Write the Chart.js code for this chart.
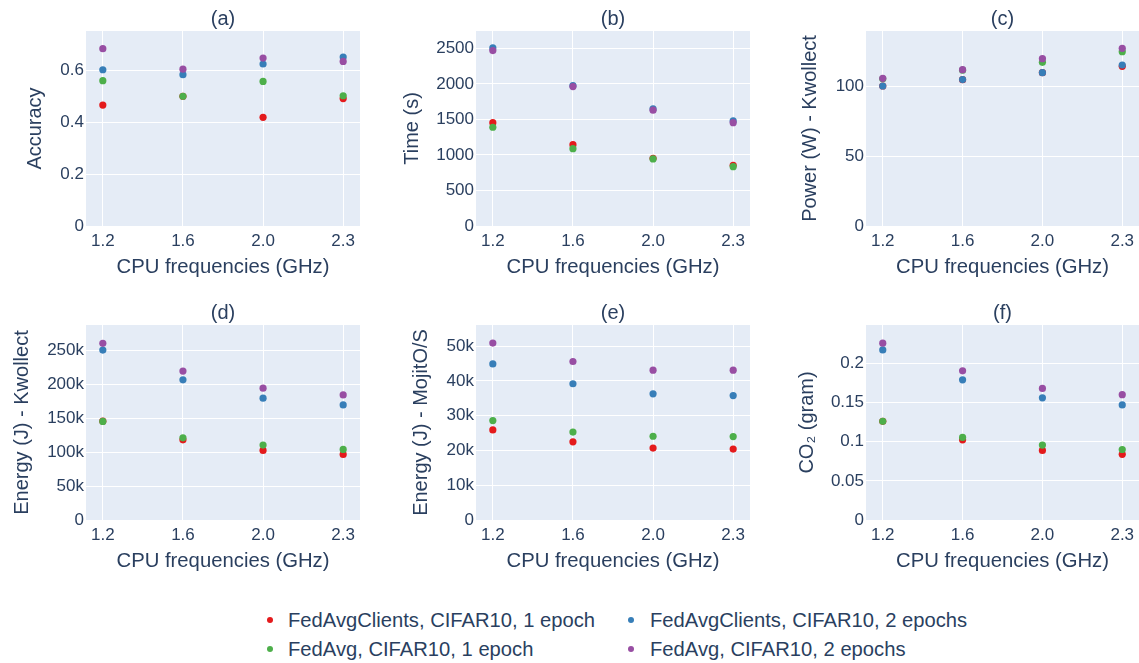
<!DOCTYPE html>
<html>
<head>
<meta charset="utf-8">
<script src="https://cdn.jsdelivr.net/npm/chart.js@4"></script>
<style>
  html, body { margin: 0; padding: 0; background: #ffffff; }
  body { width: 1139px; height: 663px; position: relative; overflow: hidden; font-family: "Liberation Sans", Arial, sans-serif; }
  .panel { position: absolute; }
  .legend-item { position: absolute; height: 26px; line-height: 26px; color: #2a3f5f; font-size: 20.2px; white-space: nowrap; }
  .legend-dot { position: absolute; width: 6px; height: 6px; border-radius: 50%; top: 10px; left: 0; }
  .legend-text { position: absolute; top: 0; }
</style>
</head>
<body>
<script>
// ---------- data ----------
const freqLabels = ['1.2', '1.6', '2.0', '2.3'];
const seriesNames = [
  'FedAvgClients, CIFAR10, 1 epoch',
  'FedAvgClients, CIFAR10, 2 epochs',
  'FedAvg, CIFAR10, 1 epoch',
  'FedAvg, CIFAR10, 2 epochs'
];
const seriesColors = ['#e41a1c', '#377eb8', '#4daf4a', '#984ea3'];

// (a) Accuracy
const accuracyClients1 = [0.465, 0.499, 0.418, 0.490];
const accuracyClients2 = [0.601, 0.582, 0.623, 0.650];
const accuracyFedAvg1  = [0.559, 0.499, 0.556, 0.501];
const accuracyFedAvg2  = [0.682, 0.603, 0.646, 0.633];
const accuracyTicks = [0, 0.2, 0.4, 0.6];

// (b) Time (s)
const timeClients1 = [1455, 1145, 952, 855];
const timeClients2 = [2507, 1975, 1648, 1479];
const timeFedAvg1  = [1390, 1089, 944, 835];
const timeFedAvg2  = [2469, 1962, 1630, 1455];
const timeTicks = [0, 500, 1000, 1500, 2000, 2500];

// (c) Power (W) - Kwollect
const powerClients1 = [100.0, 104.5, 109.5, 114.1];
const powerClients2 = [100.0, 104.6, 109.5, 115.0];
const powerFedAvg1  = [105.2, 111.3, 116.9, 124.5];
const powerFedAvg2  = [105.5, 111.7, 119.5, 126.9];
const powerTicks = [0, 50, 100];

// (d) Energy (J) - Kwollect
const energyKwClients1 = [146000, 118400, 102800, 96900];
const energyKwClients2 = [251000, 207000, 180000, 170000];
const energyKwFedAvg1  = [145600, 121400, 110600, 104200];
const energyKwFedAvg2  = [261000, 220000, 194700, 184800];
const energyKwTicks = [0, 50000, 100000, 150000, 200000, 250000];

// (e) Energy (J) - MojitO/S
const energyMjClients1 = [25900, 22500, 20700, 20400];
const energyMjClients2 = [44900, 39200, 36300, 35800];
const energyMjFedAvg1  = [28600, 25300, 24100, 24000];
const energyMjFedAvg2  = [50900, 45600, 43100, 43100];
const energyMjTicks = [0, 10000, 20000, 30000, 40000, 50000];

// (f) CO2 (gram)
const co2Clients1 = [0.1260, 0.1024, 0.0889, 0.0838];
const co2Clients2 = [0.2172, 0.1790, 0.1560, 0.1470];
const co2FedAvg1  = [0.1260, 0.1055, 0.0957, 0.0900];
const co2FedAvg2  = [0.2258, 0.1905, 0.1680, 0.1600];
const co2Ticks = [0, 0.05, 0.1, 0.15, 0.2];

// ---------- layout / style ----------
const TEXT = '#2a3f5f';
const FONT = '"Liberation Sans", Arial, sans-serif';
const kFormat = v => v === 0 ? '0' : (v / 1000) + 'k';
const plainFormat = v => String(+v.toFixed(4));

const panels = [
  { title: '(a)', yTitle: 'Accuracy', series: [accuracyClients1, accuracyClients2, accuracyFedAvg1, accuracyFedAvg2], ticks: accuracyTicks, yMax: 0.75, fmt: plainFormat, titlePad: 23 },
  { title: '(b)', yTitle: 'Time (s)', series: [timeClients1, timeClients2, timeFedAvg1, timeFedAvg2], ticks: timeTicks, yMax: 2745, fmt: plainFormat, titlePad: 10 },
  { title: '(c)', yTitle: 'Power (W) - Kwollect', series: [powerClients1, powerClients2, powerFedAvg1, powerFedAvg2], ticks: powerTicks, yMax: 139.3, fmt: plainFormat, titlePad: 18 },
  { title: '(d)', yTitle: 'Energy (J) - Kwollect', series: [energyKwClients1, energyKwClients2, energyKwFedAvg1, energyKwFedAvg2], ticks: energyKwTicks, yMax: 288000, fmt: kFormat, titlePad: 10 },
  { title: '(e)', yTitle: 'Energy (J) - MojitO/S', series: [energyMjClients1, energyMjClients2, energyMjFedAvg1, energyMjFedAvg2], ticks: energyMjTicks, yMax: 56100, fmt: kFormat, titlePad: 19 },
  { title: '(f)', yTitle: 'CO\u2082 (gram)', series: [co2Clients1, co2Clients2, co2FedAvg1, co2FedAvg2], ticks: co2Ticks, yMax: 0.249, fmt: plainFormat, titlePad: 15 }
];

const plotBg = {
  id: 'plotBg',
  beforeDraw(chart) {
    const a = chart.chartArea, ctx = chart.ctx;
    ctx.save();
    ctx.fillStyle = '#E5ECF6';
    ctx.fillRect(a.left, a.top, a.right - a.left, a.bottom - a.top);
    ctx.restore();
  }
};

panels.forEach((p, idx) => {
  const col = idx % 3, row = Math.floor(idx / 3);
  const left = col * 390, top = row * 294;
  const width = col === 2 ? 363 : 390;
  const div = document.createElement('div');
  div.className = 'panel';
  div.style.left = left + 'px';
  div.style.top = top + 'px';
  div.style.width = width + 'px';
  div.style.height = '294px';
  const canvas = document.createElement('canvas');
  div.appendChild(canvas);
  document.body.appendChild(div);

  const datasets = p.series.map((vals, s) => ({
    label: seriesNames[s],
    data: vals.map((v, i) => ({ x: i, y: v })),
    backgroundColor: seriesColors[s],
    borderWidth: 0,
    pointRadius: 3.6,
    showLine: false,
    order: 4 - s
  }));

  new Chart(canvas, {
    type: 'scatter',
    data: { datasets },
    plugins: [plotBg],
    options: {
      responsive: true,
      maintainAspectRatio: false,
      devicePixelRatio: 1,
      animation: false,
      events: [],
      layout: { padding: { left: 0, top: 0, right: col === 2 ? 0 : 30, bottom: 0 } },
      plugins: {
        legend: { display: false },
        tooltip: { enabled: false },
        title: {
          display: true, text: p.title, color: TEXT, fullSize: false,
          font: { family: FONT, size: 20, weight: 'normal' },
          padding: { top: 7, bottom: 0 }
        }
      },
      scales: {
        x: {
          type: 'linear', min: -0.21, max: 3.21,
          afterBuildTicks: s => { s.ticks = freqLabels.map((_, i) => ({ value: i })); },
          afterFit: s => { s.height = 68; },
          ticks: { color: TEXT, font: { family: FONT, size: 17 }, padding: 5, callback: v => freqLabels[v] },
          grid: { color: '#ffffff', lineWidth: 1, drawTicks: false },
          border: { display: false },
          title: { display: true, text: 'CPU frequencies (GHz)', color: TEXT, font: { family: FONT, size: 20.3 }, padding: { top: 0, bottom: 14 } }
        },
        y: {
          type: 'linear', min: 0, max: p.yMax,
          afterBuildTicks: s => { s.ticks = p.ticks.map(v => ({ value: v })); },
          afterFit: s => { s.width = 86; },
          ticks: { color: TEXT, font: { family: FONT, size: 17 }, padding: 2, callback: v => p.fmt(v) },
          grid: { color: '#ffffff', lineWidth: 1, drawTicks: false },
          border: { display: false },
          title: { display: true, text: p.yTitle, color: TEXT, font: { family: FONT, size: 20 }, padding: { top: p.titlePad, bottom: 0 } }
        }
      }
    }
  });
});

// ---------- legend ----------
const legendDotX = [270, 631];
const legendTextX = [288, 650];
const legendRows = [620, 649];
seriesNames.forEach((name, i) => {
  const c = i % 2;
  const item = document.createElement('div');
  item.className = 'legend-item';
  item.style.left = (legendDotX[c] - 3) + 'px';
  item.style.top = (legendRows[Math.floor(i / 2)] - 13) + 'px';
  const dot = document.createElement('span');
  dot.className = 'legend-dot';
  dot.style.background = seriesColors[i];
  const txt = document.createElement('span');
  txt.className = 'legend-text';
  txt.style.left = (legendTextX[c] - legendDotX[c] + 3) + 'px';
  txt.textContent = name;
  item.appendChild(dot);
  item.appendChild(txt);
  document.body.appendChild(item);
});
</script>
</body>
</html>
